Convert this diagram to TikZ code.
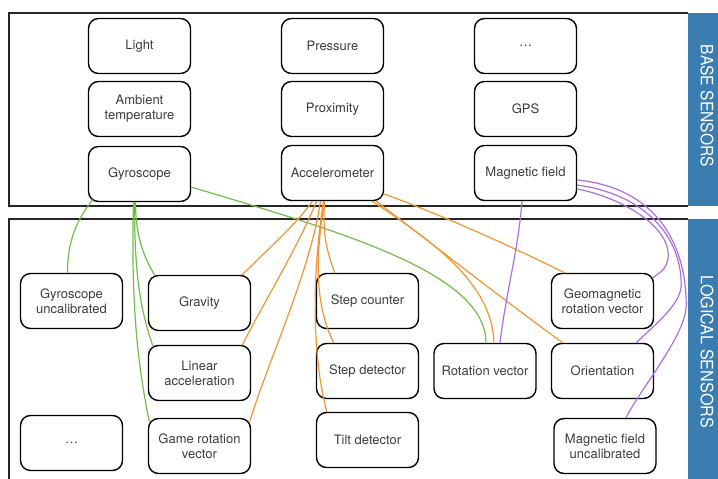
\documentclass[tikz,border=0pt]{standalone}
\usepackage{fontspec}
\setmainfont{TeX Gyre Heros}
\usetikzlibrary{calc}

\definecolor{bandblue}{RGB}{58,126,177}
\definecolor{gyrogreen}{RGB}{112,190,72}
\definecolor{accorange}{RGB}{242,148,50}
\definecolor{magpurple}{RGB}{172,110,226}
\definecolor{ink}{RGB}{60,60,60}

\begin{document}
\begin{tikzpicture}[x=1pt,y=-1pt,
  sensor/.style={draw=black, line width=1.4pt, rounded corners=10pt,
    minimum width=102pt, minimum height=55pt, align=center, inner sep=2pt,
    text=ink, font=\fontsize{13}{15}\selectfont},
  panel/.style={draw=black!85, line width=1.2pt},
  bandtext/.style={text=white, rotate=-90, font=\fontsize{17}{20}\selectfont},
  gyrolink/.style={draw=gyrogreen, line width=1.2pt},
  acclink/.style={draw=accorange, line width=1.2pt},
  maglink/.style={draw=magpurple, line width=1.2pt}]

\useasboundingbox (0,0) rectangle (718,479);

% panels and side bands
\draw[panel] (688,13) -- (9,13) -- (9,206) -- (688,206);
\draw[panel] (688,219) -- (9,219) -- (9,481);
\fill[bandblue] (688,13) rectangle (718,206);
\fill[bandblue] (688,219) rectangle (718,479);
\node[bandtext] (basetitle) at (707,106) {\scalebox{0.92}[1]{BASE SENSORS}};
\node[bandtext] (logictitle) at (707,352) {\scalebox{0.95}[1]{LOGICAL SENSORS}};

% base sensors
\node[sensor] (light)    at (139.5,46)  {Light};
\node[sensor] (ambient)  at (139.5,109) {Ambient\\temperature};
\node[sensor] (gyro)     at (139.5,174) {Gyroscope};
\node[sensor] (pressure) at (332.5,46)  {Pressure};
\node[sensor] (prox)     at (332.5,109) {Proximity};
\node[sensor] (accel)    at (332.5,173) {Accelerometer};
\node[sensor] (moreb)    at (525.5,46)  {\dots};
\node[sensor] (gps)      at (525.5,109) {GPS};
\node[sensor] (magfield) at (525.5,173) {Magnetic field};

% logical sensors
\node[sensor] (gyrounc) at (71.5,301)  {Gyroscope\\uncalibrated};
\node[sensor] (morel)   at (71.5,443)  {\dots};
\node[sensor] (gravity) at (199.5,303) {Gravity};
\node[sensor] (linacc)  at (199.5,373) {Linear\\acceleration};
\node[sensor] (game)    at (199.5,446) {Game rotation\\vector};
\node[sensor] (stepc)   at (367.5,301) {Step counter};
\node[sensor] (stepd)   at (367.5,371) {Step detector};
\node[sensor] (tilt)    at (367.5,440) {Tilt detector};
\node[sensor] (rotv)    at (485,371)   {Rotation vector};
\node[sensor] (geomag)  at (602.5,301) {Geomagnetic\\rotation vector};
\node[sensor] (orient)  at (602.5,371) {Orientation};
\node[sensor] (magunc)  at (605,446)   {Magnetic field\\uncalibrated};

% gyroscope links
\draw[gyrolink] ($(gyro.south west)+(5,-2.5)$) .. controls +(-16,20) and +(0,-32) .. ($(gyrounc.north)+(-4,0)$);
\draw[gyrolink] ($(gyro.south)+(-4,0)$) .. controls +(0,32) and +(-12,-20) .. ($(gravity.north west)+(7,0.6)$);
\draw[gyrolink] ($(gyro.south)+(-5,0)$) .. controls +(0,65) and +(-14,-40) .. ($(linacc.north west)+(5,1)$);
\draw[gyrolink] ($(gyro.south)+(-6,0)$) .. controls +(-3,110) and +(-10,-50) .. ($(game.north west)+(1.5,4)$);
\draw[gyrolink] ($(gyro.east)+(0,13)$) .. controls +(150,45) and +(0,-70) .. ($(rotv.north)+(1,0)$);

% accelerometer links
\draw[acclink] ($(accel.south)+(-20,0)$) .. controls +(-18,25) and +(22,-22) .. ($(gravity.north east)+(-9,0)$);
\draw[acclink] ($(accel.south)+(-16,0)$) .. controls +(-18,45) and +(20,-40) .. ($(linacc.north east)+(-9,0.5)$);
\draw[acclink] ($(accel.south)+(-12,0)$) .. controls +(-10,70) and +(18,-60) .. ($(game.north east)+(-1.5,4)$);
\draw[acclink] ($(accel.south)+(-8,0)$) .. controls +(-2,35) and +(-8,-22) .. ($(stepc.north west)+(19,0)$);
\draw[acclink] ($(accel.south)+(-8,0)$) .. controls +(-10,60) and +(-18,-35) .. ($(stepd.north west)+(18,0)$);
\draw[acclink] ($(accel.south)+(-9,0)$) .. controls +(-14,90) and +(-12,-45) .. ($(tilt.north west)+(11,0)$);
\draw[acclink] ($(accel.south east)+(-12,0)$) .. controls +(60,40) and +(-2,-60) .. ($(rotv.north)+(9,0)$);
\draw[acclink] ($(accel.south east)+(-8,0)$) .. controls +(55,42) and +(-50,-36) .. ($(orient.north west)+(12,0)$);
\draw[acclink] ($(accel.east)+(0,21)$) .. controls +(60,22) and +(-55,-27) .. ($(geomag.north west)+(14,0)$);

% magnetic field links
\coordinate (kbend) at ($(geomag.east)+(14,-46)$);
\coordinate (lbend) at ($(orient.east)+(27,-86)$);
\coordinate (mbend) at ($(magunc.east)+(29.5,-141)$);
\draw[maglink] ($(magfield.south)+(-3.5,0)$) .. controls +(-4,50) and +(6,-50) .. ($(rotv.north)+(15,0)$);
\draw[maglink] ($(magfield.east)+(0,16)$) .. controls +(38,7) and +(0,-32) .. (kbend)
  .. controls +(0,13) and +(8,-6) .. ($(geomag.north east)+(-1.5,5)$);
\draw[maglink] ($(magfield.east)+(0,12)$) .. controls +(60,8) and +(0,-55) .. (lbend)
  .. controls +(0,20) and +(15,-15) .. ($(orient.north east)+(-18,0)$);
\draw[maglink] ($(magfield.east)+(0,7)$) .. controls +(80,8) and +(0,-60) .. (mbend)
  .. controls +(0,30) and +(15,-30) .. ($(magunc.north)+(21,0)$);

\end{tikzpicture}
\end{document}
